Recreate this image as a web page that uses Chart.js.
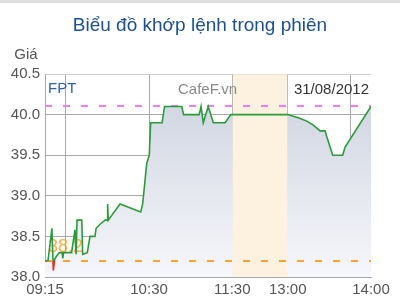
<!DOCTYPE html>
<html>
<head>
<meta charset="utf-8">
<script src="https://cdn.jsdelivr.net/npm/chart.js@4"></script>
<style>
  html, body { margin: 0; padding: 0; background: #fff; }
  #wrap { width: 400px; height: 300px; }
</style>
</head>
<body>
<div id="wrap"><canvas id="grafico" width="400" height="300"></canvas></div>
<script>
/* ===================== DATOS ===================== */

const TITULO = "Biểu đồ khớp lệnh trong phiên";
const MA = "FPT";
const FECHA = "31/08/2012";
const MARCA = "CafeF.vn";

const GIA_REF = 38.2;   // giá tham chiếu
const GIA_TRAN = 40.1;  // giá trần

const horas = [
  "09:15:00", "09:17:10", "09:20:00", "09:21:00", "09:22:00", "09:23:55",
  "09:25:20", "09:27:20", "09:27:50", "09:28:20", "09:34:10", "09:36:35",
  "09:37:25", "09:38:05", "09:41:30", "09:42:10", "09:45:30", "09:47:25",
  "09:51:00", "09:51:50", "09:54:40", "09:58:20", "09:59:50", "10:00:10",
  "10:00:35", "10:09:05", "10:24:00", "10:25:25", "10:28:20", "10:30:10",
  "10:31:10", "10:39:25", "10:41:10", "10:53:35", "10:54:55", "11:06:10",
  "11:07:30", "11:09:05", "11:12:40", "11:16:20", "11:24:50", "11:28:55",
  "13:00:00", "13:07:35", "13:13:40", "13:18:25", "13:23:20", "13:26:55",
  "13:28:05", "13:32:25", "13:39:35", "13:41:20", "14:00:00"
];

const precios = [
  38.2, 38.2, 38.6, 38.08, 38.22, 38.27,
  38.3, 38.3, 38.23, 38.3, 38.3, 38.58,
  38.28, 38.7, 38.7, 38.28, 38.3, 38.5,
  38.5, 38.6, 38.65, 38.7, 38.7, 38.9,
  38.7, 38.9, 38.8, 38.9, 39.4, 39.5,
  39.9, 39.9, 40.1, 40.1, 40.0, 40.0,
  40.1, 39.9, 40.1, 39.9, 39.9, 40.0,
  40.0, 39.96, 39.92, 39.87, 39.8, 39.8,
  39.73, 39.5, 39.5, 39.6, 40.1
];

const ticksHora = ["09:15", "09:30", "10:30", "11:30", "13:00", "13:45", "14:00"];
const ticksVisibles = ["09:15", "10:30", "11:30", "13:00", "14:00"];
const ticksPrecio = [38.0, 38.5, 39.0, 39.5, 40.0, 40.5];

const NGHI_TRUA = ["11:30", "13:00"];

/* ===================== EJE DE TIEMPO ===================== */
// la pausa de mediodía (11:30-13:00) se comprime a 40 minutos en el eje

function aMinutos(h) {
  const [hh, mm, ss] = h.split(":").map(Number);
  return hh * 60 + mm + (ss || 0) / 60;
}

function aEje(h) {
  const m = aMinutos(h);
  if (m <= aMinutos("11:30")) return m - aMinutos("09:15");
  return 175 + (m - aMinutos("13:00"));
}

const puntos = horas.map((h, i) => ({ x: aEje(h), y: precios[i] }));
const posTicks = ticksHora.map(aEje);

/* ===================== ESTILO ===================== */

const FUENTE = "'Liberation Sans', Arial, sans-serif";
const VERDE = "#2b9a3b";
const ROJO = "#e3301e";

/* ===================== PLUGIN DE DECORADO ===================== */

const decorado = {
  id: "decorado",
  beforeDraw(chart) {
    const c = chart.ctx;
    c.save();
    c.fillStyle = "#dedede";
    c.fillRect(0, 0, chart.width, 3);

    c.fillStyle = "#1d4f8c";
    c.font = "19px " + FUENTE;
    c.textAlign = "center";
    c.textBaseline = "middle";
    c.fillText(TITULO, 200, 26);

    c.fillStyle = "#555";
    c.font = "15px " + FUENTE;
    c.fillText("Giá", 26, 55);
    c.restore();
  },
  beforeDatasetDraw(chart, args) {
    if (args.index !== 1) return;
    const { ctx: c, chartArea: a, scales: { x, y } } = chart;
    c.save();

    // banda de la pausa
    const x0 = x.getPixelForValue(aEje(NGHI_TRUA[0]));
    const x1 = x.getPixelForValue(aEje(NGHI_TRUA[1]));
    c.fillStyle = "#fdf2e0";
    c.fillRect(x0 + 0.5, a.top + 0.5, x1 - x0 - 1, a.bottom - a.top - 1);

    // textos
    c.textBaseline = "middle";
    c.font = "15px " + FUENTE;
    c.fillStyle = "#3263a3";
    c.textAlign = "left";
    c.fillText(MA, 48, 89);
    c.fillStyle = "#8a8a8a";
    c.fillText(MARCA, 178, 90);
    c.fillStyle = "#333";
    c.textAlign = "right";
    c.fillText(FECHA, 369, 90);

    c.fillStyle = "rgba(255,160,40,0.85)";
    c.textAlign = "left";
    c.font = "18px " + FUENTE;
    c.fillText(String(GIA_REF), 48, 247);

    // líneas de referencia
    c.lineWidth = 2;
    c.setLineDash([7, 11]);
    [[GIA_TRAN, "#f07ef0"], [GIA_REF, "#ffa236"]].forEach(([v, col]) => {
      const py = Math.round(y.getPixelForValue(v));
      c.strokeStyle = col;
      c.beginPath();
      c.moveTo(a.left, py);
      c.lineTo(a.right, py);
      c.stroke();
    });
    c.restore();
  }
};

/* ===================== COLORES DINÁMICOS ===================== */

function colorLinea(ctx) {
  const chart = ctx.chart;
  const a = chart.chartArea;
  if (!a) return VERDE;
  const py = chart.scales.y.getPixelForValue(GIA_REF);
  const t = Math.min(1, Math.max(0, (py - a.top) / (a.bottom - a.top)));
  const g = chart.ctx.createLinearGradient(0, a.top, 0, a.bottom);
  g.addColorStop(0, VERDE);
  g.addColorStop(t, VERDE);
  g.addColorStop(Math.min(1, t + 0.001), ROJO);
  g.addColorStop(1, ROJO);
  return g;
}

function colorRelleno(ctx) {
  const chart = ctx.chart;
  const a = chart.chartArea;
  if (!a) return "rgba(210,214,226,0.8)";
  const g = chart.ctx.createLinearGradient(0, a.top, 0, a.bottom);
  g.addColorStop(0, "rgb(204,209,222)");
  g.addColorStop(1, "rgb(246,247,251)");
  return g;
}

/* ===================== GRÁFICO ===================== */

new Chart(document.getElementById("grafico"), {
  type: "line",
  data: {
    datasets: [
      {
        data: puntos, order: 2, fill: "start", borderWidth: 0,
        backgroundColor: colorRelleno, pointRadius: 0, tension: 0
      },
      {
        data: puntos, order: 1, fill: false, borderWidth: 1.6,
        borderColor: colorLinea, pointRadius: 0, tension: 0
      }
    ]
  },
  options: {
    responsive: false,
    animation: false,
    events: [],
    layout: { padding: { top: 74, right: 29, left: 0, bottom: 0 } },
    plugins: { legend: { display: false }, tooltip: { enabled: false } },
    scales: {
      x: {
        type: "linear",
        min: 0,
        max: aEje("14:00"),
        afterBuildTicks: s => { s.ticks = posTicks.map(v => ({ value: v })); },
        afterFit: s => { s.height = 23; },
        ticks: {
          autoSkip: false,
          maxRotation: 0,
          padding: 4,
          color: "#555",
          font: { family: FUENTE, size: 15 },
          callback: (v, i) => ticksVisibles.includes(ticksHora[i]) ? ticksHora[i] : ""
        },
        grid: {
          drawTicks: false,
          color: c => c.index === ticksHora.length - 1 ? "rgba(0,0,0,0)" : "#a8a8a8"
        },
        border: { display: true, color: "#a8a8a8" }
      },
      y: {
        min: ticksPrecio[0],
        max: ticksPrecio[ticksPrecio.length - 1],
        afterBuildTicks: s => { s.ticks = ticksPrecio.map(v => ({ value: v })); },
        afterFit: s => { s.width = 45; },
        ticks: {
          padding: 5,
          color: "#555",
          font: { family: FUENTE, size: 15 },
          callback: v => Number(v).toFixed(1)
        },
        grid: {
          drawTicks: false,
          color: c => c.index === ticksPrecio.length - 1 ? "#d0d0d0" : "#a8a8a8"
        },
        border: { display: true, color: "#a8a8a8" }
      }
    }
  },
  plugins: [decorado]
});
</script>
</body>
</html>
